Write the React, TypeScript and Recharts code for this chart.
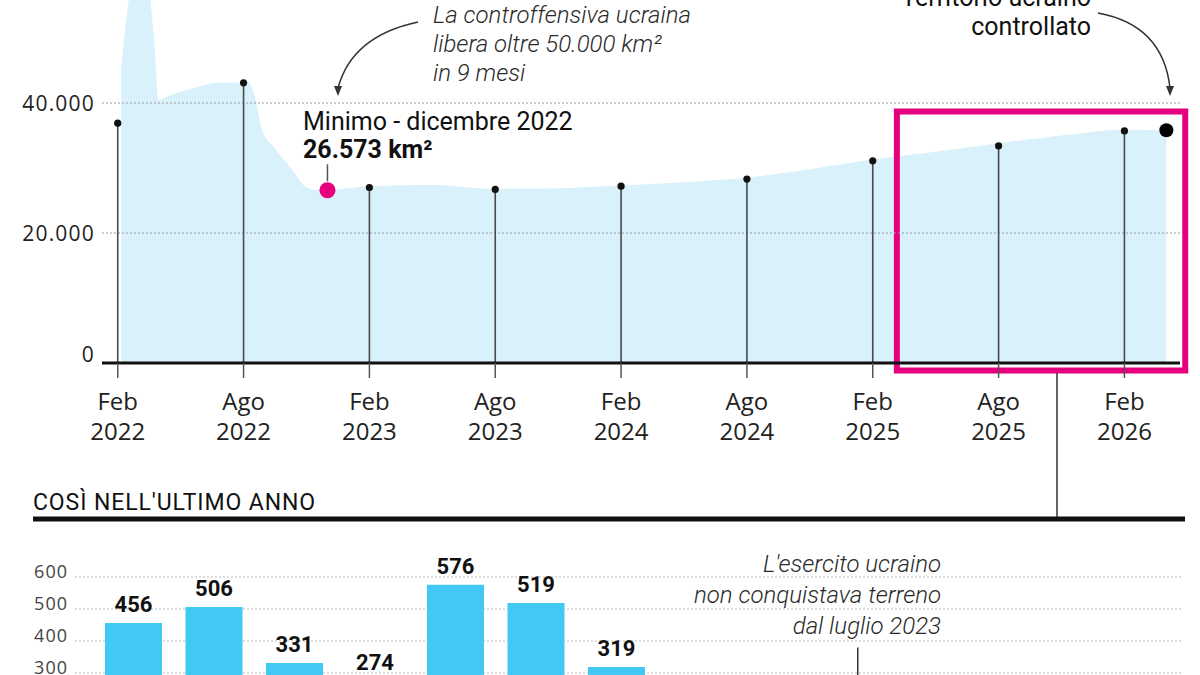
import {
  Area,
  Bar,
  BarChart,
  CartesianGrid,
  ComposedChart,
  LabelList,
  ReferenceArea,
  ReferenceLine,
  Scatter,
  XAxis,
  YAxis,
} from 'recharts'

// months counted from February 2022
const areaMonths = [
  0.17, 0.6, 1.05, 1.5, 1.75, 1.95, 2.5, 3.5, 4.8, 6.2, 6.5, 6.9, 7.4, 8.3, 9, 9.5, 10, 11, 12, 15, 18, 21, 24,
  27, 30, 33, 36, 39, 42, 45, 48, 50,
]
const areaKm2 = [
  45500, 57500, 64000, 57500, 49000, 40500, 41200, 42200, 43100, 43200, 41500, 35600, 33400, 29800, 27000, 26600,
  26573, 26900, 27200, 27400, 26800, 26900, 27300, 27800, 28500, 29800, 31300, 32500, 33800, 35000, 35900, 35800,
]

const stemMonths = [0, 6, 12, 18, 24, 30, 36, 42, 48]
const stemKm2 = [36900, 43100, 27000, 26700, 27200, 28300, 31100, 33400, 35700]
const tickMonthNames = ['Feb', 'Ago', 'Feb', 'Ago', 'Feb', 'Ago', 'Feb', 'Ago', 'Feb']
const tickYears = ['2022', '2022', '2023', '2023', '2024', '2024', '2025', '2025', '2026']
const kmTicks = [0, 20000, 40000]

const minMonth = 10
const minKm2 = 26573
const lastMonth = 50
const lastKm2 = 35800

// highlighted last year
const boxFrom = 37.15
const boxTo = 50.9

const barMonths = ['Mag 25', 'Giu 25', 'Lug 25', 'Ago 25', 'Set 25', 'Ott 25', 'Nov 25', 'Dic 25', 'Gen 26', 'Feb 26']
const barKm2 = [456, 506, 331, 274, 576, 519, 319, 190, 160, -60]
const barTicks = [0, 100, 200, 300, 400, 500, 600]

const areaData = areaMonths.map((month, i) => ({ month, value: areaKm2[i] }))
const stemData = stemMonths.map((month, i) => ({ month, value: stemKm2[i] }))
const barData = barMonths.map((month, i) => ({ month, value: barKm2[i] }))

const SANS = "'Open Sans', sans-serif"
const ROBOTO = 'Roboto, sans-serif'

const fmt = (v: number) => String(v).replace(/\B(?=(\d{3})+(?!\d))/g, '.')

const MonthTick = ({ x, y, payload }: any) => {
  const i = stemMonths.indexOf(payload.value)
  return (
    <text x={x} y={y} textAnchor="middle" fill="#222" fontSize={24} fontFamily={SANS}>
      <tspan x={x} dy={32}>
        {tickMonthNames[i]}
      </tspan>
      <tspan x={x} dy={30}>
        {tickYears[i]}
      </tspan>
    </text>
  )
}

const KmTick = ({ x, y, payload }: any) => (
  <text
    x={x}
    y={y}
    dy={payload.value === 0 ? -9 : 0}
    textAnchor="end"
    dominantBaseline="central"
    fill="#222"
    fontSize={21}
    fontFamily={SANS}
    style={{ letterSpacing: 1.2 }}
  >
    {fmt(payload.value)}
  </text>
)

const BarTick = ({ x, y, payload }: any) =>
  payload.value >= 300 ? (
    <text
      x={x}
      y={y}
      dy={-6}
      textAnchor="end"
      dominantBaseline="central"
      fill="#444"
      fontSize={18}
      fontFamily={SANS}
      style={{ letterSpacing: 1 }}
    >
      {payload.value}
    </text>
  ) : null

const Annotations = () => (
  <svg width={1200} height={675} style={{ position: 'absolute', left: 0, top: 0, pointerEvents: 'none' }}>
    <g fontFamily={ROBOTO} fontStyle="italic" fontWeight={300} fontSize={24} fill="#2a2a2a">
      <text x={433} y={23}>La controffensiva ucraina</text>
      <text x={433} y={52}>libera oltre 50.000 km²</text>
      <text x={433} y={81}>in 9 mesi</text>
    </g>
    <path d="M418,22 Q352,36 338,88" fill="none" stroke="#333" strokeWidth={1.5} />
    <path d="M334,86 L338,96 L342,86 z" fill="#333" />

    <g fontFamily={ROBOTO} fontSize={25} fill="#111">
      <text x={303} y={130}>Minimo - dicembre 2022</text>
      <text x={303} y={158} fontWeight={700}>
        26.573 km²
      </text>
    </g>

    <g fontFamily={ROBOTO} fontSize={25} fill="#111" textAnchor="end">
      <text x={1091} y={6}>Territorio ucraino</text>
      <text x={1091} y={35}>controllato</text>
    </g>
    <path d="M1098,13 Q1163,25 1170,88" fill="none" stroke="#333" strokeWidth={1.5} />
    <path d="M1166,86 L1170,96 L1174,86 z" fill="#333" />

    <line x1={1057} y1={373} x2={1057} y2={517} stroke="#333" strokeWidth={1.5} />
    <rect x={33} y={516.5} width={1152} height={5} fill="#111" />
    <text x={33} y={510} fontFamily={ROBOTO} fontSize={23} fill="#111" style={{ letterSpacing: 0.9 }}>
      COSÌ NELL'ULTIMO ANNO
    </text>

    <g fontFamily={ROBOTO} fontStyle="italic" fontWeight={300} fontSize={24} fill="#2a2a2a" textAnchor="end">
      <text x={941} y={572}>L'esercito ucraino</text>
      <text x={941} y={603}>non conquistava terreno</text>
      <text x={941} y={634}>dal luglio 2023</text>
    </g>
  </svg>
)

export default function App() {
  return (
    <div
      style={{
        position: 'absolute',
        left: 0,
        top: 0,
        width: 1200,
        height: 675,
        overflow: 'hidden',
        background: '#fff',
      }}
    >
      <div style={{ position: 'absolute', left: 0, top: -92 }}>
        <ComposedChart width={1200} height={545} data={areaData} margin={{ top: 0, right: 20, bottom: 0, left: 0 }}>
          <XAxis
            dataKey="month"
            type="number"
            domain={[-0.75, 50.65]}
            allowDataOverflow
            ticks={stemMonths}
            interval={0}
            tickSize={15}
            tickMargin={0}
            height={90}
            axisLine={{ stroke: '#111', strokeWidth: 3 }}
            tickLine={{ stroke: '#555', strokeWidth: 1.5 }}
            tick={MonthTick}
          />
          <YAxis
            type="number"
            domain={[0, 70000]}
            ticks={kmTicks}
            width={102}
            axisLine={false}
            tickLine={false}
            tickSize={0}
            tickMargin={7}
            tick={KmTick}
          />
          <Area
            dataKey="value"
            type="monotone"
            fill="#d8f1fb"
            fillOpacity={1}
            stroke="none"
            isAnimationActive={false}
          />
          {kmTicks
            .filter((v) => v > 0)
            .map((v) => (
              <ReferenceLine key={v} y={v} stroke="#9a9a9a" strokeDasharray="2 2" strokeWidth={1} />
            ))}
          {stemData.map((d) => (
            <ReferenceLine
              key={d.month}
              segment={[
                { x: d.month, y: 0 },
                { x: d.month, y: d.value },
              ]}
              stroke="#4a4a4a"
              strokeWidth={1.6}
              ifOverflow="visible"
            />
          ))}
          <Scatter
            data={stemData}
            dataKey="value"
            isAnimationActive={false}
            shape={(p: any) => <circle cx={p.cx} cy={p.cy} r={3.6} fill="#111" />}
          />
          <Scatter
            data={[{ month: minMonth, value: minKm2 }]}
            dataKey="value"
            isAnimationActive={false}
            shape={(p: any) => (
              <g>
                <line x1={p.cx} y1={p.cy - 26} x2={p.cx} y2={p.cy - 9} stroke="#555" strokeWidth={1.5} />
                <circle cx={p.cx} cy={p.cy} r={8} fill="#e6007e" />
              </g>
            )}
          />
          <Scatter
            data={[{ month: lastMonth, value: lastKm2 }]}
            dataKey="value"
            isAnimationActive={false}
            shape={(p: any) => <circle cx={p.cx} cy={p.cy} r={7} fill="#000" />}
          />
          <ReferenceArea
            x1={boxFrom}
            x2={boxTo}
            y1={-1150}
            y2={38700}
            fill="none"
            fillOpacity={0}
            stroke="#e5007d"
            strokeWidth={6}
            ifOverflow="visible"
          />
        </ComposedChart>
      </div>

      <div style={{ position: 'absolute', left: 0, top: 545 }}>
        <BarChart width={1200} height={300} data={barData} margin={{ top: 0, right: 18, bottom: 12, left: 0 }}>
          <CartesianGrid
            vertical={false}
            horizontalValues={barTicks}
            stroke="#bbb"
            strokeDasharray="2 2"
          />
          <XAxis dataKey="month" hide padding={{ left: 18, right: 284 }} />
          <YAxis
            type="number"
            domain={[-200, 700]}
            ticks={barTicks}
            width={75}
            axisLine={false}
            tickLine={false}
            tickSize={0}
            tickMargin={7}
            tick={BarTick}
          />
          <Bar dataKey="value" fill="#41c8f3" barSize={57} isAnimationActive={false}>
            <LabelList
              dataKey="value"
              position="top"
              offset={11}
              fontSize={22}
              fontWeight={700}
              fill="#111"
              fontFamily={ROBOTO}
            />
          </Bar>
          <ReferenceLine
            segment={[
              { x: barMonths[9], y: 380 },
              { x: barMonths[9], y: 0 },
            ]}
            stroke="#333"
            strokeWidth={1.5}
            ifOverflow="visible"
          />
        </BarChart>
      </div>

      <Annotations />
    </div>
  )
}
